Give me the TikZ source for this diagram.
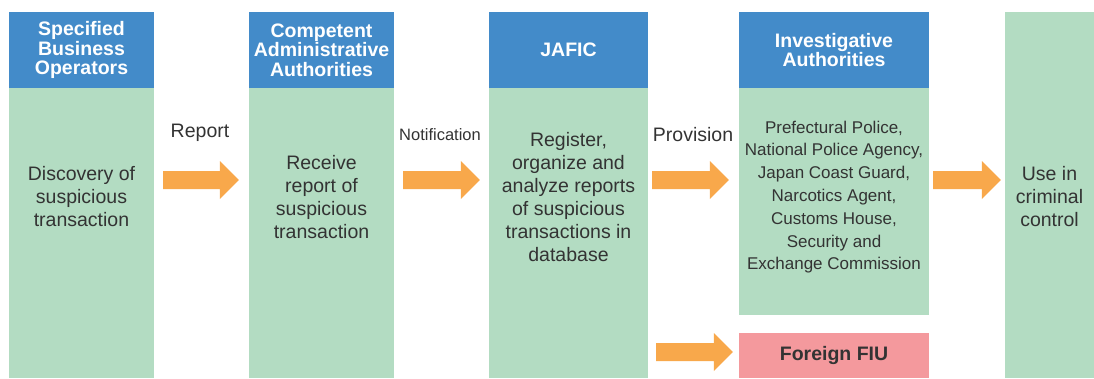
\documentclass[tikz,border=0pt]{standalone}
\usepackage{fontspec}
\setmainfont{Liberation Sans}
\usetikzlibrary{calc}
\definecolor{hblue}{HTML}{438BC9}
\definecolor{bgreen}{HTML}{B3DCC2}
\definecolor{aorange}{HTML}{F8A84B}
\definecolor{fpink}{HTML}{F4999D}
\definecolor{tgray}{HTML}{333333}
\newcommand{\blockarrow}[2]{%
  \fill[aorange] let \p1=(#1), \p2=(#2) in
    (\x1,\y1+9pt) -- (\x2-19pt,\y1+9pt) -- (\x2-19pt,\y1+19pt) -- (\x2,\y1)
    -- (\x2-19pt,\y1-19pt) -- (\x2-19pt,\y1-9pt) -- (\x1,\y1-9pt) -- cycle;}
\begin{document}
\begin{tikzpicture}[x=1pt,y=-1pt,
  hdr/.style={fill=hblue, text=white, font=\bfseries\fontsize{19.5}{19.5}\selectfont,
    align=center, inner sep=0pt, minimum height=76pt},
  body/.style={fill=bgreen, inner sep=0pt},
  txt/.style={text=tgray, font=\fontsize{19.5}{23}\selectfont, align=center, inner sep=0pt},
  small/.style={text=tgray, font=\fontsize{17}{22.8}\selectfont, align=center, inner sep=0pt}]
\useasboundingbox (0,0) rectangle (1094,378);
% column 1
\node[hdr, minimum width=145pt] (h1) at (81.5,50) {Specified\\Business\\Operators};
\node[body, minimum width=145pt, minimum height=290pt] (c1b) at (81.5,233) {};
\node[txt] (t1) at (81.5,197) {Discovery of\\suspicious\\transaction};
% column 2
\node[hdr, minimum width=145pt] (h2) at (321.5,50) {Competent\\Administrative\\Authorities};
\node[body, minimum width=145pt, minimum height=290pt] (c2b) at (321.5,233) {};
\node[txt] (t2) at (321.5,197) {Receive\\report of\\suspicious\\transaction};
% column 3
\node[hdr, minimum width=159pt] (h3) at (568.5,50) {JAFIC};
\node[body, minimum width=159pt, minimum height=290pt] (c3b) at (568.5,233) {};
\node[txt] (t3) at (568.5,197) {Register,\\organize and\\analyze reports\\of suspicious\\transactions in\\database};
% column 4
\node[hdr, minimum width=190pt] (h4) at (834,50) {Investigative\\Authorities};
\node[body, minimum width=190pt, minimum height=227pt] (c4b) at (834,201.5) {};
\node[small] (t4) at (834,197) {Prefectural Police,\\National Police Agency,\\Japan Coast Guard,\\Narcotics Agent,\\Customs House,\\Security and\\Exchange Commission};
\node[fill=fpink, minimum width=190pt, minimum height=45pt, inner sep=0pt,
  text=tgray, font=\bfseries\fontsize{19.5}{23}\selectfont] (fiu) at (834,355.5) {Foreign FIU};
% column 5
\node[body, minimum width=89pt, minimum height=366pt] (c5b) at (1049.5,195) {};
\node[txt] (t5) at (1049.5,197) {Use in\\criminal\\control};
% labels
\node[txt] (lrep) at (200,133) {Report};
\node[txt, font=\fontsize{16.5}{20}\selectfont] (lnot) at (440,135) {Notification};
\node[txt] (lprov) at (693,135) {Provision};
% arrows
\coordinate (ar) at (0,180);
\coordinate (ar2) at (0,352);
\blockarrow{$(c1b.east|-ar)+(9,0)$}{$(c2b.west|-ar)+(-10,0)$}
\blockarrow{$(c2b.east|-ar)+(9,0)$}{$(c3b.west|-ar)+(-9,0)$}
\blockarrow{$(c3b.east|-ar)+(4,0)$}{$(c4b.west|-ar)+(-10,0)$}
\blockarrow{$(c4b.east|-ar)+(4,0)$}{$(c5b.west|-ar)+(-4,0)$}
\blockarrow{$(c3b.east|-ar2)+(8,0)$}{$(fiu.west|-ar2)+(-6,0)$}
\end{tikzpicture}
\end{document}
